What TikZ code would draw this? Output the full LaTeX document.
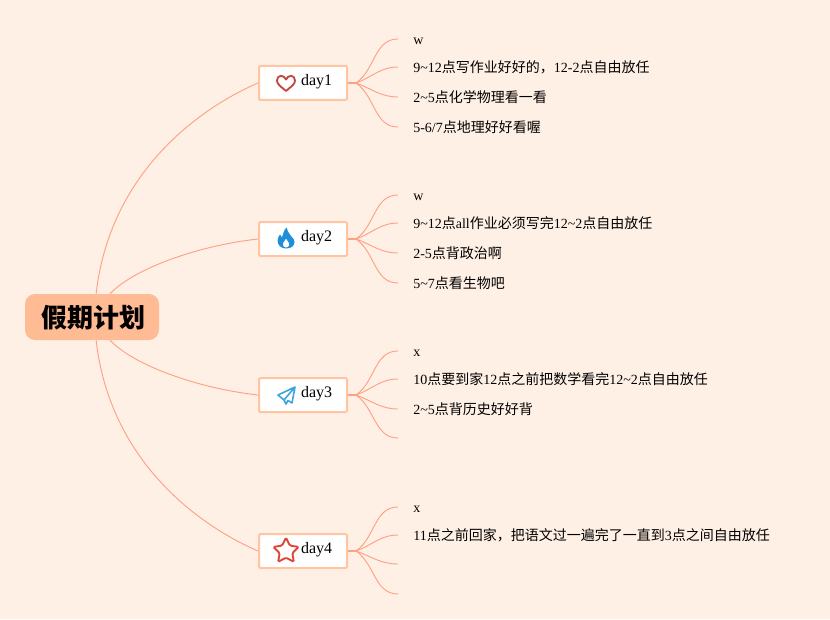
\documentclass[tikz,border=0pt]{standalone}
\usepackage{xcolor}
\usepackage{fontspec}
\setmainfont{Liberation Serif}
\newfontfamily\cjk{Noto Sans CJK SC}
\usetikzlibrary{shapes.geometric}
\definecolor{pagebg}{HTML}{FFF0E6}
\definecolor{rootfill}{HTML}{FFBB94}
\definecolor{boxline}{HTML}{FFC4A0}
\definecolor{branchline}{HTML}{FFA084}
\begin{document}
\begin{tikzpicture}[
    x=0.75pt, y=0.75pt,
    node distance=117pt,
    root/.style={rectangle, fill=rootfill, rounded corners=7.5pt, minimum width=100.5pt, minimum height=34.5pt, inner sep=0pt, text height=20pt, text depth=3.7pt, font=\cjk\bfseries\fontsize{19.5}{22}\selectfont},
    daybox/.style={rectangle, draw=boxline, line width=1.5pt, fill=white, rounded corners=1pt, minimum width=66pt, minimum height=25.5pt, inner sep=0pt},
    daytext/.style={inner sep=0pt, font=\fontsize{12}{14}\selectfont},
    leaf/.style={anchor=west, inner xsep=11.25pt, inner ysep=0pt, text height=11pt, text depth=2.5pt, font=\fontsize{10.5}{12}\selectfont},
    branch/.style={draw=branchline, line width=0.7pt},
    stub/.style={draw=branchline, line width=1.5pt}
]
\fill[pagebg] (0,0) rectangle (830,619);
\useasboundingbox (0,0) rectangle (830,619);

\node[root] (plan) at (92,302) {\hspace{1.5pt}假期计划};

\node[daybox] (day1) at (303,536) {};
\node[daybox, below of=day1] (day2) {};
\node[daybox, below of=day2] (day3) {};
\node[daybox, below of=day3] (day4) {};

\node[daytext, xshift=10.25pt, yshift=1pt] (text1) at (day1) {day1};
\node[daytext, xshift=10.25pt, yshift=1pt] (text2) at (day2) {day2};
\node[daytext, xshift=10.25pt, yshift=1pt] (text3) at (day3) {day3};
\node[daytext, xshift=10.25pt, yshift=1pt] (text4) at (day4) {day4};

% free ends of the thick stubs
\coordinate (hub1) at (356,536);
\coordinate (hub2) at (356,380);
\coordinate (hub3) at (356,224);
\coordinate (hub4) at (356,68);

% day1
\node[leaf] (w1) at (398,580) {w};
\node[leaf] (w2) at (398,552) {9\textasciitilde12{\cjk 点写作业好好的，}12-2{\cjk 点自由放任}};
\node[leaf] (w3) at (398,522) {2\textasciitilde5{\cjk 点化学物理看一看}};
\node[leaf] (w4) at (398,492) {5-6/7{\cjk 点地理好好看喔}};
% day2
\node[leaf] (x1) at (398,424) {w};
\node[leaf] (x2) at (398,396) {9\textasciitilde12{\cjk 点}all{\cjk 作业必须写完}12\textasciitilde2{\cjk 点自由放任}};
\node[leaf] (x3) at (398,366) {2-5{\cjk 点背政治啊}};
\node[leaf] (x4) at (398,336) {5\textasciitilde7{\cjk 点看生物吧}};
% day3
\node[leaf] (y1) at (398,268) {x};
\node[leaf] (y2) at (398,240) {10{\cjk 点要到家}12{\cjk 点之前把数学看完}12\textasciitilde2{\cjk 点自由放任}};
\node[leaf] (y3) at (398,210) {2\textasciitilde5{\cjk 点背历史好好背}};
\coordinate (y4) at (398,181);
% day4
\node[leaf] (z1) at (398,112) {x};
\node[leaf] (z2) at (398,84) {11{\cjk 点之前回家，把语文过一遍完了一直到}3{\cjk 点之间自由放任}};
\coordinate (z3) at (398,55);
\coordinate (z4) at (398,25);

\draw[branch] (plan.80) .. controls (110,447) and (200,511) .. (day1.west);
\draw[branch] (plan.52) .. controls (132,349) and (195,373) .. (day2.west);
\draw[branch] (plan.-52) .. controls (132,255) and (195,231) .. (day3.west);
\draw[branch] (plan.-80) .. controls (110,157) and (200,93) .. (day4.west);

\draw[stub] (day1.east) -- (hub1);
\draw[stub] (day2.east) -- (hub2);
\draw[stub] (day3.east) -- (hub3);
\draw[stub] (day4.east) -- (hub4);

\draw[branch] (hub1) to[out=35,in=180] (w1.west);
\draw[branch] (hub1) to[out=20,in=180] (w2.west);
\draw[branch] (hub1) to[out=-20,in=180] (w3.west);
\draw[branch] (hub1) to[out=-35,in=180] (w4.west);
\draw[branch] (hub2) to[out=35,in=180] (x1.west);
\draw[branch] (hub2) to[out=20,in=180] (x2.west);
\draw[branch] (hub2) to[out=-20,in=180] (x3.west);
\draw[branch] (hub2) to[out=-35,in=180] (x4.west);
\draw[branch] (hub3) to[out=35,in=180] (y1.west);
\draw[branch] (hub3) to[out=20,in=180] (y2.west);
\draw[branch] (hub3) to[out=-20,in=180] (y3.west);
\draw[branch] (hub3) to[out=-35,in=180] (y4);
\draw[branch] (hub4) to[out=35,in=180] (z1.west);
\draw[branch] (hub4) to[out=20,in=180] (z2.west);
\draw[branch] (hub4) to[out=-20,in=180] (z3);
\draw[branch] (hub4) to[out=-35,in=180] (z4);

% icons
\draw[shift={(286,535.5)}, draw={rgb,255:red,196;green,72;blue,62}, line width=1.4pt, line join=round]
    (0,-7.5) .. controls (-5,-3) and (-9,-1) .. (-9,3) .. controls (-9,9) and (-2,9) .. (0,4)
    .. controls (2,9) and (9,9) .. (9,3) .. controls (9,-1) and (5,-3) .. (0,-7.5) -- cycle;
\fill[shift={(286,381)}, fill={rgb,255:red,30;green,143;blue,216}, even odd rule]
    (0,-10.5) .. controls (-5,-10.5) and (-8.5,-7) .. (-8.5,-2.5) .. controls (-8.5,0) and (-7,2) .. (-6,3.5)
    .. controls (-5,2.5) and (-4.5,1.5) .. (-4,0.5) .. controls (-3,4) and (-2,8) .. (0.5,10.5)
    .. controls (1,7) and (3,5) .. (5,2) .. controls (7,0) and (8.5,-2) .. (8.5,-4)
    .. controls (8.5,-8) and (5,-10.5) .. (0,-10.5) -- cycle
    (0,-9.5) .. controls (-3,-9.5) and (-4,-7) .. (-3,-5) .. controls (-2,-3.5) and (-1,-2.5) .. (0,-0.5)
    .. controls (1,-2.5) and (2.5,-3.5) .. (3,-5) .. controls (4,-7) and (3,-9.5) .. (0,-9.5) -- cycle;
\draw[shift={(286,223)}, draw={rgb,255:red,63;green,164;blue,218}, line width=1.2pt, line join=round]
    (9,9) -- (-8,1) -- (-2,-4) -- (0,-8) -- (2,-4.5) -- (6,-7) -- cycle
    (-2,-4) -- (9,9);
\node[star, star points=5, star point ratio=2, draw={rgb,255:red,224;green,69;blue,58}, line width=1.4pt, minimum size=20pt, inner sep=0pt, rounded corners=1pt] (fourstar) at (286,68) {};
\end{tikzpicture}
\end{document}
